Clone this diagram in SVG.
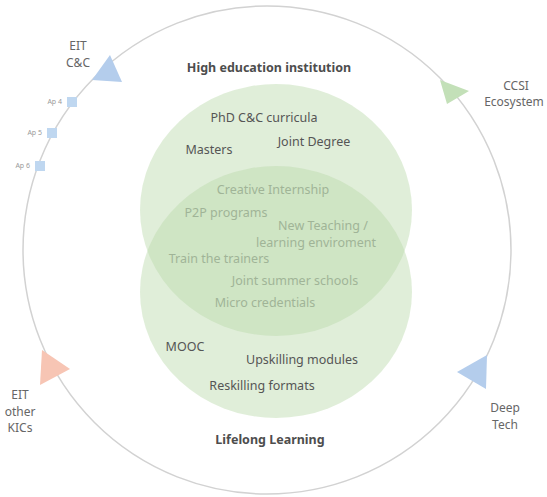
<svg xmlns="http://www.w3.org/2000/svg" width="547" height="497" viewBox="0 0 547 497">
  <style>
    .ring { fill: none; stroke: #d2d2d2; stroke-width: 1.5; }
    .set { fill: rgb(186,217,170); fill-opacity: 0.45; }
    text { font-family: "Noto Sans", "Open Sans", "Liberation Sans", sans-serif; text-anchor: middle; }
    .title { font-weight: bold; font-size: 12.5px; fill: #4d4d4d; }
    .item { font-size: 12.5px; fill: #555; }
    .shared { font-size: 12.5px; fill: #a0b497; }
    .outer { font-size: 12px; fill: #666; }
    .ap { font-size: 7px; fill: #9a9a9a; text-anchor: end; }
    .sq { fill: #bfd7f0; }
  </style>
  <rect width="547" height="497" fill="#fff"/>

  <g id="connectors">
    <circle class="ring" cx="267" cy="250" r="244"/>
  </g>

  <g id="higher-education">
    <ellipse class="set" cx="276" cy="210" rx="136" ry="126"/>
    <text class="title" x="269" y="72">High education institution</text>
    <text class="item" x="264" y="122">PhD C&amp;C curricula</text>
    <text class="item" x="209" y="154">Masters</text>
    <text class="item" x="314" y="146">Joint Degree</text>
  </g>

  <g id="lifelong-learning">
    <ellipse class="set" cx="276" cy="292" rx="136" ry="126"/>
    <text class="title" x="270" y="444">Lifelong Learning</text>
    <text class="item" x="185" y="351">MOOC</text>
    <text class="item" x="302" y="364">Upskilling modules</text>
    <text class="item" x="262" y="390">Reskilling formats</text>
  </g>

  <g id="shared-formats">
    <text class="shared" x="273" y="194">Creative Internship</text>
    <text class="shared" x="226" y="217">P2P programs</text>
    <text class="shared" x="323" y="230">New Teaching /</text>
    <text class="shared" x="316" y="247">learning enviroment</text>
    <text class="shared" x="219" y="263">Train the trainers</text>
    <text class="shared" x="295" y="285">Joint summer schools</text>
    <text class="shared" x="265" y="307">Micro credentials</text>
  </g>

  <g id="eit-cc">
    <polygon points="92,80 110,55 122,82" fill="#b4cdec"/>
    <text class="outer" x="78" y="50">EIT</text>
    <text class="outer" x="78" y="66.5">C&amp;C</text>
  </g>

  <g id="ap4">
    <rect class="sq" x="67" y="97" width="10" height="10"/>
    <text class="ap" x="62" y="104">Ap 4</text>
  </g>
  <g id="ap5">
    <rect class="sq" x="47" y="128" width="10" height="10"/>
    <text class="ap" x="42" y="135">Ap 5</text>
  </g>
  <g id="ap6">
    <rect class="sq" x="35" y="161" width="10" height="10"/>
    <text class="ap" x="30" y="168">Ap 6</text>
  </g>

  <g id="ccsi-ecosystem">
    <polygon points="440,80 469,91 447,104" fill="#c3e0b8"/>
    <text class="outer" x="516" y="89.5">CCSI</text>
    <text class="outer" x="514" y="106">Ecosystem</text>
  </g>

  <g id="eit-other-kics">
    <polygon points="42,350 70,369 40,385" fill="#f7c5b4"/>
    <text class="outer" x="20" y="399">EIT</text>
    <text class="outer" x="20" y="415.5">other</text>
    <text class="outer" x="20" y="432">KICs</text>
  </g>

  <g id="deep-tech">
    <polygon points="457,372 487,355 486,389" fill="#b4cdec"/>
    <text class="outer" x="505" y="412">Deep</text>
    <text class="outer" x="505" y="428.5">Tech</text>
  </g>
</svg>
